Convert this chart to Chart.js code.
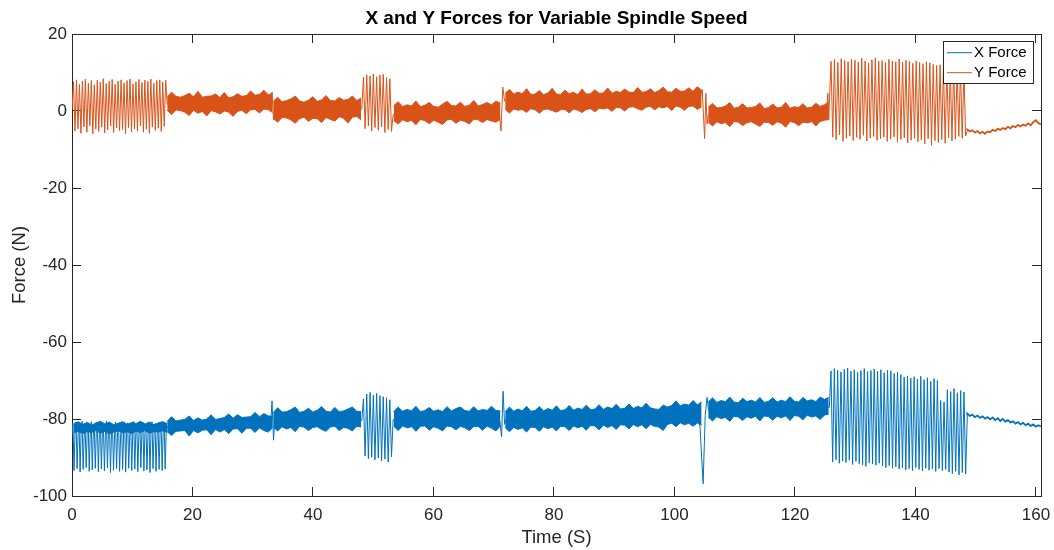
<!DOCTYPE html>
<html>
<head>
<meta charset="utf-8">
<title>X and Y Forces for Variable Spindle Speed</title>
<script src="https://cdn.jsdelivr.net/npm/chart.js@4.4.1/dist/chart.umd.min.js"></script>
<style>
  html, body { margin: 0; padding: 0; background: #fff; }
  #wrap { width: 1054px; height: 550px; }
</style>
</head>
<body>
<div id="wrap"><canvas id="forcesChart" width="1054" height="550"></canvas></div>
<script>
// ---- tick labels ----
const timeTicks = [0, 20, 40, 60, 80, 100, 120, 140, 160];
const forceTicks = [-100, -80, -60, -40, -20, 0, 20];
const timeMax = 160.83;

// ---- time spans (s) of each part of the run ----
const osc1Span = [0.0, 15.8];
const osc2Span = [48.1, 53.3];
const osc3Span = [125.7, 148.6];
const tailSpan = [148.6, 160.8];
const xBand0Span = [0.3, 15.8];
const bandSpans = [[15.8, 33.3], [33.4, 48.0], [53.4, 71.1], [71.9, 104.5], [105.6, 125.6]];

// ---- X force: chatter bursts (peak / trough values) ----
const xOsc1 = [-84.0,
  -81.2,-93.4,-83.6, -80.8,-92.9,-84.1, -81.5,-93.8,-83.2, -80.6,-93.1,-84.4, -81.9,-92.6,-83.5,
  -81.0,-93.6,-83.9, -80.7,-93.2,-84.2, -81.4,-92.8,-83.3, -81.1,-93.7,-84.0, -80.9,-93.0,-83.7,
  -81.6,-93.5,-84.3, -80.5,-92.7,-83.4, -81.3,-93.9,-83.8, -81.8,-93.3,-84.1, -80.8,-92.9,-83.5,
  -81.2,-93.6,-84.4, -81.5,-93.1,-83.6, -80.9,-93.8,-83.2, -81.0,-92.8,-84.0, -81.7,-93.4,-83.7,
  -80.6,-93.0,-83.9, -81.3,-93.7,-84.2, -81.1,-92.6,-83.4, -80.8,-93.5,-83.8, -81.6,-93.2,-84.3,
  -81.4,-93.9,-83.5, -80.7,-92.9,-83.9, -81.2,-93.6,-84.1, -81.9,-93.1,-83.3, -80.9,-93.4,-83.8,
  -81.5,-93.0,-83.6, -82.0];
const xOsc2 = [-80.4, -74.8,-89.6, -73.5,-90.3, -73.1,-89.9, -73.8,-90.6, -73.3,-90.1, -73.9,-90.8,
  -74.2,-90.4, -74.5,-91.2, -75.0,-89.8, -80.2];
const xOsc3 = [-77.0,
  -67.5,-91.2, -66.9,-90.6, -67.3,-91.5, -67.8,-90.9, -67.1,-91.3, -66.8,-90.7, -67.6,-91.8, -67.2,-91.0,
  -67.9,-91.6, -67.4,-91.9, -66.9,-92.3, -67.7,-91.4, -67.4,-91.7, -67.0,-92.0, -67.6,-91.5, -67.2,-92.2,
  -68.0,-92.6, -67.3,-92.1, -67.5,-92.8, -68.2,-92.4, -67.8,-93.0, -68.5,-92.7, -69.1,-93.2, -68.8,-92.9,
  -69.4,-93.4, -69.0,-92.6, -69.6,-93.1, -68.9,-93.5, -69.8,-92.8, -69.3,-93.3, -70.2,-93.0, -69.5,-93.6,
  -70.0,-92.9, -75.2,-93.4, -75.6,-93.1, -72.4,-93.8, -72.9,-94.2, -72.1,-93.6, -73.2,-94.5, -72.6,-93.9,
  -73.0,-94.3, -79.0];
const xTail = [-78.6,-79.2,-78.9,-79.5,-79.1,-79.7,-79.3,-79.9,-79.5,-80.1,-79.6,-80.3,-79.8,-80.5,-80.0,
  -80.7,-80.3,-80.9,-80.6,-81.2,-80.8,-81.4,-81.0,-81.6,-81.2,-81.8,-81.4,-82.0,-81.6,-81.9];
// transients between cuts [time, force]
const xJumps = [[33.0,-80.6],[33.2,-75.3],[33.45,-85.5],[33.65,-80.2],[47.9,-80.2],[53.5,-80.0],
  [71.0,-80.3],[71.3,-84.6],[71.55,-72.8],[71.8,-81.4],[72.0,-80.2],[104.0,-78.8],[104.25,-82.4],
  [104.75,-96.8],[105.1,-79.0],[105.4,-74.4],[105.65,-77.8],[125.5,-77.0]];
// dense upper part of the first burst
const xTop0 = [-81.2,-80.7,-81.4,-80.9,-81.6,-81.0,-80.6,-81.3,-80.8,-81.5,-81.1,-80.7,-81.4,-80.9,-81.2,-80.6,-81.3,-80.8,-81.5,-81.0,-80.7,-81.2];
const xBot0 = [-83.6,-83.2,-83.8,-83.3,-83.5,-83.0,-83.7,-83.2,-83.9,-83.4,-83.1,-83.6,-83.3,-83.8,-83.2,-83.5,-83.0,-83.7,-83.3,-83.4,-83.1,-83.5];
// stable cutting: upper / lower edge of the noise band
const xTopA = [-80.6,-79.4,-80.5,-80.3,-80.1,-79.2,-80.4,-79.7,-80.3,-80.0,-78.9,-80.1,-79.9,-79.6,-78.7,-79.8,-78.9,-79.6,-79.5,-79.4,-78.3,-79.4,-78.6,-79.2,-79.3];
const xBotA = [-83.3,-84.3,-83.2,-83.1,-83.0,-84.4,-83.0,-83.6,-82.9,-82.8,-84.1,-82.7,-83.4,-82.7,-83.8,-82.6,-82.5,-83.7,-82.4,-82.4,-83.5,-82.3,-83.0,-83.4,-82.3];
const xTopB = [-78.3,-77.1,-78.2,-78.1,-77.6,-76.9,-78.3,-78.0,-77.2,-78.2,-77.7,-76.8,-78.0,-78.2,-77.0,-78.1,-77.9,-77.4,-76.9,-78.0,-78.1];
const xBotB = [-82.1,-83.1,-82.0,-82.6,-82.2,-83.3,-81.9,-82.1,-83.0,-82.2,-82.0,-82.7,-83.2,-82.1,-81.9,-83.0,-82.2,-82.4,-83.1,-81.9,-82.1];
const xTopC = [-78.1,-76.9,-78.0,-77.5,-77.9,-76.7,-78.1,-77.8,-77.0,-78.0,-77.6,-78.1,-76.8,-77.9,-77.3,-76.9,-77.8,-78.0,-76.8,-77.9,-77.5,-77.8,-76.7,-77.8,-77.9];
const xBotC = [-81.9,-83.0,-81.8,-82.3,-82.0,-83.2,-81.9,-81.8,-82.9,-82.0,-82.4,-83.1,-81.8,-82.0,-82.8,-81.9,-82.3,-83.0,-82.0,-81.9,-82.9,-81.8,-82.4,-83.1,-81.8];
const xTopD = [-78.1,-76.9,-78.0,-77.4,-77.9,-76.7,-78.0,-77.8,-76.8,-77.9,-77.3,-77.7,-76.6,-77.8,-77.6,-76.5,-77.7,-77.2,-77.5,-76.4,
  -77.6,-77.4,-76.3,-77.5,-76.9,-77.3,-76.2,-77.4,-77.2,-76.1,-77.3,-76.7,-77.1,-75.9,-77.1,-77.4,-77.5,-76.4,-76.9,-76.5,
  -75.3,-76.6,-76.1,-76.4,-75.2,-76.3,-75.6];
const xBotD = [-82.3,-83.3,-82.2,-82.7,-82.3,-83.4,-82.1,-82.2,-83.2,-82.0,-82.5,-82.1,-83.1,-81.9,-82.0,-83.0,-81.8,-82.3,-81.9,-82.9,
  -81.7,-81.8,-82.8,-81.6,-82.2,-81.7,-82.7,-81.5,-81.6,-82.6,-81.4,-82.0,-81.5,-82.5,-81.4,-81.9,-82.1,-83.0,-81.4,-81.1,
  -82.0,-81.0,-81.5,-81.1,-81.9,-81.0,-81.6];
const xTopE = [-75.6,-74.5,-75.7,-75.2,-75.5,-74.3,-75.6,-75.8,-74.6,-75.5,-75.1,-75.6,-74.4,-75.7,-75.4,-74.5,-75.6,-75.1,-75.5,-74.2,
  -75.4,-75.6,-74.4,-75.3,-75.0,-75.5,-74.3,-74.9,-74.4];
const xBotE = [-79.5,-80.5,-79.4,-79.9,-79.6,-80.6,-79.3,-79.5,-80.4,-79.4,-79.8,-79.3,-80.5,-79.2,-79.4,-80.3,-79.3,-79.7,-79.2,-80.4,
  -79.1,-79.3,-80.2,-79.0,-79.5,-79.2,-80.1,-79.0,-78.7];

// ---- Y force ----
const yOsc1 = [0.4,
  7.6,-5.2, 8.1,-4.6, 6.9,-5.8, 7.8,-4.1, 8.3,-5.5, 7.2,-3.8, 7.9,-5.9, 6.8,-4.7, 8.0,-5.3, 7.5,-4.2,
  8.4,-5.7, 7.1,-4.9, 7.7,-3.9, 8.2,-5.6, 6.9,-4.4, 7.8,-5.1, 8.1,-4.8, 7.3,-5.9, 7.9,-4.3, 8.3,-5.4,
  7.0,-4.6, 7.6,-5.2, 8.2,-3.9, 7.4,-5.5, 8.0,-4.7, 7.7,-5.8, 8.3,-4.2, 7.2,-5.0, 7.9,-4.5, 8.1,-5.3,
  7.5,-4.0, 8.0, 1.8];
const yOsc2 = [0.5, 8.8,-4.6, 9.4,-3.9, 9.1,-5.2, 9.6,-4.3, 8.9,-5.0, 9.3,-4.1, 9.5,-5.6, 8.7,-4.8, 8.4,-5.3, -1.0];
const yOsc3 = [2.0,
  12.9,-6.8, 13.4,-7.5, 12.6,-6.2, 13.6,-7.9, 13.1,-7.1, 12.8,-6.5, 13.5,-7.7, 13.2,-6.9, 12.7,-7.4, 13.7,-6.3,
  13.0,-7.8, 12.5,-7.0, 13.3,-6.6, 13.8,-7.6, 12.9,-7.2, 13.1,-6.8, 12.6,-7.9, 13.4,-7.3, 13.0,-6.7, 12.8,-8.1,
  13.5,-7.4, 12.7,-7.0, 13.2,-8.3, 12.9,-7.6, 12.4,-7.1, 13.0,-8.0, 12.6,-7.5, 12.3,-8.6, 12.8,-7.2, 12.5,-8.9,
  12.1,-7.7, 11.8,-8.2, 12.0,-7.4, 11.5,-8.4, 11.9,-6.9, 11.2,-7.8, 11.6,-7.3, 11.0,-6.6, 11.4,-7.1, 10.8,-6.5,
  -5.0];
const yTail = [-4.8,-5.3,-5.0,-5.6,-5.2,-5.8,-5.4,-5.9,-5.3,-5.5,-4.9,-5.2,-4.6,-4.9,-4.4,-4.7,-4.1,-4.5,-3.9,
  -4.2,-3.6,-4.0,-3.5,-3.8,-3.2,-3.7,-2.9,-2.4,-3.1,-3.5];
const yJumps = [[33.0,3.2],[33.2,4.9],[33.45,-2.3],[33.65,0.2],[47.9,0.4],[53.5,-0.8],[70.9,-0.2],
  [71.2,-5.2],[71.5,6.2],[71.8,2.6],[104.3,3.6],[104.6,5.6],[105.0,-7.2],[105.2,4.6],[105.4,-3.4],
  [105.6,-1.0],[125.2,-0.8],[125.45,4.6],[125.6,-2.4]];
const yTopA = [3.7,4.9,3.8,3.6,4.0,4.6,3.7,5.1,3.6,3.8,3.9,4.4,3.5,4.8,3.4,3.7,4.5,3.8,4.0,5.2,4.1,4.3,5.4,4.2,4.6];
const yBotA = [0.2,-0.9,0.3,0.1,-0.3,-1.2,0.2,-0.6,-0.1,-1.3,0.1,-0.2,-0.8,0.0,-0.3,-1.4,-0.1,0.2,-0.7,0.3,0.4,-0.5,0.5,0.3,-0.4];
const yTopB = [2.5,3.6,2.4,2.7,3.1,3.9,2.6,2.3,2.8,3.7,2.5,2.9,4.0,2.7,2.6,3.5,2.8,3.0,3.9,2.7,3.4];
const yBotB = [-1.9,-2.9,-1.7,-1.8,-2.3,-3.2,-2.0,-1.6,-2.7,-1.9,-2.0,-3.0,-1.7,-2.2,-2.6,-1.5,-1.9,-3.1,-1.6,-1.4,-2.4];
const yTopC = [1.4,2.4,1.2,1.6,1.3,2.6,1.1,1.5,2.2,1.2,1.0,1.8,2.5,1.4,1.3,2.3,1.2,1.5,2.7,1.3,1.7,2.2,1.6,2.6,2.0];
const yBotC = [-2.5,-3.4,-2.3,-2.8,-2.4,-3.6,-2.2,-2.5,-3.3,-2.4,-2.9,-3.5,-2.3,-2.2,-3.2,-2.4,-2.7,-3.4,-2.1,-2.3,-3.0,-2.2,-2.6,-2.9,-2.1];
const yTopD = [4.6,5.6,4.4,4.9,4.5,5.8,4.3,4.4,5.3,4.2,4.7,5.9,4.4,4.3,5.4,4.5,4.9,4.2,5.7,4.4,4.5,5.5,4.6,4.7,6.0,
  4.6,5.1,4.8,5.7,4.9,4.8,6.1,4.9,5.0,5.8,4.8,5.3,6.2,5.0,4.9,5.9,5.1,5.2,6.0,5.1,6.3,5.4];
const yBotD = [0.4,-0.5,0.5,0.2,0.4,-0.4,0.6,0.3,-0.6,0.4,0.5,0.1,-0.3,0.3,0.4,-0.5,0.5,0.2,-0.4,0.4,0.6,-0.2,0.7,0.5,0.8,
  -0.1,0.9,0.8,0.0,1.0,1.1,0.6,0.2,1.0,1.2,0.3,1.1,0.8,1.2,0.1,1.3,1.0,0.2,1.2,1.3,0.4,1.1];
const yTopE = [1.0,2.0,0.8,0.9,1.3,2.2,0.7,1.0,1.9,0.8,0.9,1.2,2.1,0.6,0.9,1.8,0.8,1.0,2.2,0.7,1.1,0.9,1.9,0.8,1.0,2.0,1.2,1.6,2.4];
const yBotE = [-2.9,-3.9,-2.8,-3.3,-3.0,-4.1,-2.7,-2.9,-3.8,-3.0,-2.8,-3.4,-4.0,-2.9,-3.0,-3.7,-2.8,-3.2,-4.2,-2.7,-3.0,-3.8,-2.9,-3.1,-2.8,-3.9,-2.7,-2.4,-2.2];

const xTops = [xTopA, xTopB, xTopC, xTopD, xTopE];
const xBots = [xBotA, xBotB, xBotC, xBotD, xBotE];
const yTops = [yTopA, yTopB, yTopC, yTopD, yTopE];
const yBots = [yBotA, yBotB, yBotC, yBotD, yBotE];

const X_COLOR = '#0072BD';
const Y_COLOR = '#D95319';
const FONT = "'Liberation Sans', Arial, Helvetica, sans-serif";
const TXT = '#262626';

// put readings of one part evenly over its time span
function spread(vals, span) {
    const n = vals.length;
    return vals.map((v, i) => ({ x: span[0] + (span[1] - span[0]) * i / (n - 1), y: v }));
}
function pairs(list) {
    return list.map(p => ({ x: p[0], y: p[1] }));
}

const xMain = [].concat(spread(xOsc1, osc1Span), pairs(xJumps), spread(xOsc2, osc2Span),
    spread(xOsc3, osc3Span), spread(xTail, tailSpan)).sort((a, b) => a.x - b.x);
const yMain = [].concat(spread(yOsc1, osc1Span), pairs(yJumps), spread(yOsc2, osc2Span),
    spread(yOsc3, osc3Span), spread(yTail, tailSpan)).sort((a, b) => a.x - b.x);

// the slow drift after the last burst is a bit thicker (fine noise)
const tailWidth = ctx => (ctx.p0.parsed.x >= tailSpan[0] ? 1.8 : 1);

const datasets = [
    { label: 'X Force', data: xMain, borderColor: X_COLOR, borderWidth: 1, fill: false, segment: { borderWidth: tailWidth } },
    { label: 'Y Force', data: yMain, borderColor: Y_COLOR, borderWidth: 1, fill: false, segment: { borderWidth: tailWidth } }
];
function addBand(top, bot, span, color) {
    datasets.push({ label: '', data: spread(top, span), borderColor: color, borderWidth: 1, fill: false });
    datasets.push({ label: '', data: spread(bot, span), borderColor: color, borderWidth: 1,
        backgroundColor: color, fill: '-1' });
}
addBand(xTop0, xBot0, xBand0Span, X_COLOR);
bandSpans.forEach((span, i) => {
    addBand(xTops[i], xBots[i], span, X_COLOR);
    addBand(yTops[i], yBots[i], span, Y_COLOR);
});

// axis pieces shared by the four sides of the box
const tickGrid = { drawOnChartArea: false, drawTicks: true, tickLength: -9, tickColor: TXT, tickWidth: 1 };
const boxBorder = { display: true, color: TXT, width: 1 };
const setTimeTicks = s => { s.ticks = timeTicks.map(v => ({ value: v })); };
const setForceTicks = s => { s.ticks = forceTicks.map(v => ({ value: v })); };
function fixSize(w, h) {
    return s => {
        if (w !== null) s.width = w;
        if (h !== null) s.height = h;
        s.paddingLeft = 0; s.paddingRight = 0; s.paddingTop = 0; s.paddingBottom = 0;
    };
}

// legend with a frame, inside the top right corner
const boxLegend = {
    id: 'boxLegend',
    afterDraw(chart) {
        const ctx = chart.ctx;
        const area = chart.chartArea;
        const w = 90, h = 42;
        const left = area.right - 8 - w;
        const top = area.top + 7;
        ctx.save();
        ctx.fillStyle = '#fff';
        ctx.fillRect(left, top, w, h);
        ctx.strokeStyle = TXT;
        ctx.lineWidth = 1;
        ctx.strokeRect(left + 0.5, top + 0.5, w, h);
        ctx.font = '15px ' + FONT;
        ctx.textBaseline = 'middle';
        ctx.textAlign = 'left';
        chart.data.datasets.slice(0, 2).forEach((ds, i) => {
            const y = top + 11.7 + i * 20;
            ctx.strokeStyle = ds.borderColor;
            ctx.beginPath();
            ctx.moveTo(left + 4, y);
            ctx.lineTo(left + 29, y);
            ctx.stroke();
            ctx.fillStyle = '#000';
            ctx.fillText(ds.label, left + 31, y + 0.5);
        });
        ctx.restore();
    }
};

new Chart(document.getElementById('forcesChart'), {
    type: 'line',
    data: { datasets: datasets },
    options: {
        responsive: false,
        animation: false,
        events: [],
        layout: { padding: 0 },
        elements: { point: { radius: 0 }, line: { tension: 0 } },
        plugins: {
            legend: { display: false },
            tooltip: { enabled: false }
        },
        scales: {
            x: {
                type: 'linear', position: 'bottom', min: 0, max: timeMax,
                afterBuildTicks: setTimeTicks,
                afterFit: fixSize(null, 54),
                ticks: { font: { family: FONT, size: 17 }, color: TXT, padding: 18, maxRotation: 0, autoSkip: false },
                grid: tickGrid,
                border: boxBorder,
                title: { display: true, text: 'Time (S)', color: TXT,
                    font: { family: FONT, size: 18.5 }, padding: { top: 0, bottom: 0.5 } }
            },
            x2: {
                type: 'linear', position: 'top', min: 0, max: timeMax,
                afterBuildTicks: setTimeTicks,
                afterFit: fixSize(null, 34),
                ticks: { display: false },
                grid: tickGrid,
                border: boxBorder,
                title: { display: true, text: 'X and Y Forces for Variable Spindle Speed', color: '#000',
                    font: { family: FONT, size: 19, weight: 'bold' }, padding: { top: 7, bottom: 0 } }
            },
            y: {
                type: 'linear', position: 'left', min: -100, max: 20,
                afterBuildTicks: setForceTicks,
                afterFit: fixSize(72, null),
                ticks: { font: { family: FONT, size: 17 }, color: TXT, padding: 14 },
                grid: tickGrid,
                border: boxBorder,
                title: { display: true, text: 'Force (N)', color: TXT,
                    font: { family: FONT, size: 18.5 }, padding: { top: 8.5, bottom: 0 } }
            },
            y2: {
                type: 'linear', position: 'right', min: -100, max: 20,
                afterBuildTicks: setForceTicks,
                afterFit: fixSize(13, null),
                ticks: { display: false },
                grid: tickGrid,
                border: boxBorder
            }
        }
    },
    plugins: [boxLegend]
});
</script>
</body>
</html>
